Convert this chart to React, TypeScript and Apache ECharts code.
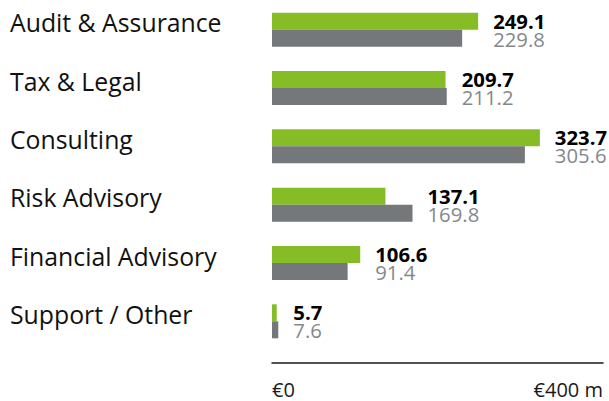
import React, { useEffect, useRef } from "react";
import * as echarts from "echarts";

const categories = [
  "Audit & Assurance",
  "Tax & Legal",
  "Consulting",
  "Risk Advisory",
  "Financial Advisory",
  "Support / Other",
];
const currentYear = [249.1, 209.7, 323.7, 137.1, 106.6, 5.7];
const previousYear = [229.8, 211.2, 305.6, 169.8, 91.4, 7.6];
const axisMin = 0;
const axisMax = 400;
const axisTickLabels = ["€0", "€400 m"];

const GREEN = "#86bc25";
const GREY = "#75787b";
const GREY_TEXT = "#85888b";
const FONT = "'Open Sans', 'Noto Sans', sans-serif";

export default function App() {
  const ref = useRef<HTMLDivElement>(null);

  useEffect(() => {
    if (!ref.current) return;
    const chart = echarts.init(ref.current, undefined, { renderer: "svg" });
    const maxVals = currentYear.map((v, i) => Math.max(v, previousYear[i]));
    chart.setOption({
      animation: false,
      textStyle: { fontFamily: FONT },
      grid: { left: 272, right: 6, top: 0.5, bottom: 50.5, containLabel: false },
      xAxis: {
        type: "value",
        min: axisMin,
        max: axisMax,
        interval: axisMax - axisMin,
        offset: 12,
        splitLine: { show: false },
        axisTick: { show: false },
        axisLine: { show: true, lineStyle: { color: "#1a1a1a", width: 1.5 } },
        axisLabel: {
          margin: 17,
          fontSize: 20,
          color: "#1a1a1a",
          fontFamily: FONT,
          alignMinLabel: "left",
          alignMaxLabel: "right",
          formatter: (v: number) => (v === axisMin ? axisTickLabels[0] : axisTickLabels[1]),
        },
      },
      yAxis: [
        {
          type: "category",
          data: categories,
          inverse: true,
          axisLine: { show: false },
          axisTick: { show: false },
          splitLine: { show: false },
          axisLabel: {
            align: "left",
            verticalAlign: "bottom",
            lineHeight: 15,
            margin: 262,
            fontSize: 24.8,
            color: "#111",
            fontFamily: FONT,
          },
        },
        {
          type: "category",
          data: categories,
          inverse: true,
          show: false,
        },
      ],
      series: [
        {
          type: "bar",
          name: "current",
          data: currentYear,
          barWidth: 17,
          barGap: "0%",
          itemStyle: { color: GREEN },
          silent: true,
        },
        {
          type: "bar",
          name: "previous",
          data: previousYear,
          barWidth: 17,
          barGap: "0%",
          itemStyle: { color: GREY },
          silent: true,
        },
        {
          type: "bar",
          name: "labels",
          yAxisIndex: 1,
          data: maxVals,
          barWidth: 34,
          itemStyle: { color: "rgba(0,0,0,0)" },
          silent: true,
          label: {
            show: true,
            position: "right",
            distance: 15,
            fontSize: 20,
            fontFamily: FONT,
            lineHeight: 18,
            formatter: (p: any) =>
              `{a|${currentYear[p.dataIndex].toFixed(1)}}\n{b|${previousYear[p.dataIndex].toFixed(1)}}`,
            rich: {
              a: { fontSize: 20.3, fontWeight: "bold", color: "#000", lineHeight: 18, fontFamily: FONT },
              b: { fontSize: 20.3, color: GREY_TEXT, lineHeight: 18, fontFamily: FONT },
            },
          },
        },
      ],
    });
    return () => chart.dispose();
  }, []);

  return <div ref={ref} style={{ width: 609, height: 401, position: "absolute", left: 0, top: 0 }} />;
}
